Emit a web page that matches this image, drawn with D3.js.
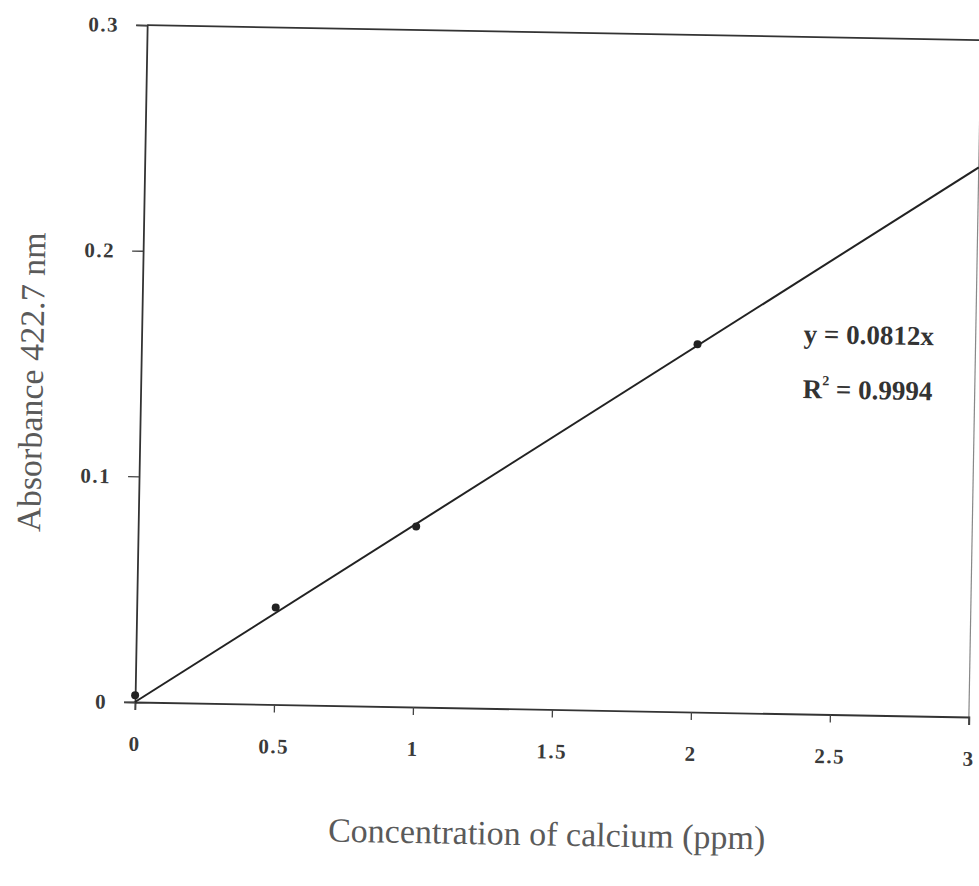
<!DOCTYPE html>
<html>
<head>
<meta charset="utf-8">
<script src="https://cdn.jsdelivr.net/npm/d3@7"></script>
<style>
  body { margin: 0; background: #fff; }
  svg { display: block; }
</style>
</head>
<body>
<div id="chart"></div>
<script>
// calibration data
var concentration = [0, 0.5, 1, 2];
var absorbance = [0.003, 0.043, 0.080, 0.163];
var xTicks = [0, 0.5, 1, 1.5, 2, 2.5, 3];
var yTicks = [0, 0.1, 0.2, 0.3];
var slope = 0.0812;
var rSquared = "0.9994";

var w = 979, h = 886;
var x0 = 135, y0 = 702;     // plot origin
var plotW = 834, plotH = 677;
var tilt = 1.03;            // the page was scanned slightly askew

var svg = d3.select("#chart").append("svg")
    .attr("width", w).attr("height", h)
    .style("background", "#ffffff");

var g = svg.append("g")
    .attr("transform", "rotate(" + tilt + "," + x0 + "," + y0 + ")");

var x_scale = d3.scaleLinear().domain([0, 3]).range([x0, x0 + plotW]);
var y_scale = d3.scaleLinear().domain([0, 0.3]).range([y0, y0 - plotH]);

// frame: top and right border
g.append("line")
    .attr("x1", x_scale(0)).attr("x2", x_scale(3) + 20)
    .attr("y1", y_scale(0.3)).attr("y2", y_scale(0.3))
    .attr("stroke", "#333").attr("stroke-width", 1.8);
g.append("line")
    .attr("x1", x_scale(3)).attr("x2", x_scale(3))
    .attr("y1", y_scale(0.3)).attr("y2", y_scale(0) + 8)
    .attr("stroke", "#888").attr("stroke-width", 1.2);

var xAxis = g.append("g")
    .attr("transform", "translate(0," + y0 + ")")
    .call(d3.axisBottom(x_scale).tickValues(xTicks).tickSize(8).tickPadding(26)
        .tickFormat(function (d) { return d; }));
var yAxis = g.append("g")
    .attr("transform", "translate(" + x0 + ",0)")
    .call(d3.axisLeft(y_scale).tickValues(yTicks).tickSize(11).tickPadding(17)
        .tickFormat(function (d) { return d; }));

[xAxis, yAxis].forEach(function (ax) {
    ax.attr("font-size", null);
    ax.select(".domain").attr("stroke", "#333").attr("stroke-width", 1.8);
    ax.selectAll(".tick line").attr("stroke", "#444").attr("stroke-width", 1.3);
    ax.selectAll("text")
        .style("font-family", "'Liberation Serif', 'DejaVu Serif', serif")
        .style("font-size", "21px")
        .style("font-weight", "bold")
        .style("letter-spacing", "1.5px")
        .attr("fill", "#3a3a3a");
});

// trend line through the origin
g.append("line")
    .attr("x1", x_scale(0)).attr("y1", y_scale(0))
    .attr("x2", x_scale(3)).attr("y2", y_scale(slope * 3))
    .attr("stroke", "#222").attr("stroke-width", 2);

g.selectAll("path.pt").data(concentration).enter()
    .append("path")
    .attr("class", "pt")
    .attr("d", d3.symbol().type(d3.symbolCircle).size(50))
    .attr("transform", function (d, i) {
        return "translate(" + x_scale(d) + "," + y_scale(absorbance[i]) + ")";
    })
    .attr("fill", "#222");

// equation label
var eq = g.append("g")
    .attr("font-family", "'Liberation Serif', 'DejaVu Serif', serif")
    .attr("font-weight", "bold")
    .attr("font-size", "27px")
    .attr("fill", "#333");
eq.append("text").attr("x", 797).attr("y", 331).text("y = " + slope + "x");
var r2 = eq.append("text").attr("x", 797).attr("y", 386);
r2.append("tspan").text("R");
r2.append("tspan").attr("dy", -13).attr("font-size", "14px").text("2");
r2.append("tspan").attr("dy", 13).text(" = " + rSquared);

// axis titles
g.append("text")
    .attr("x", (x0 + x0 + plotW) / 2 - 3)
    .attr("y", 838)
    .attr("text-anchor", "middle")
    .attr("font-family", "'Liberation Serif', 'DejaVu Serif', serif")
    .attr("font-size", "34px")
    .attr("fill", "#5a5a5a")
    .text("Concentration of calcium (ppm)");

g.append("text")
    .attr("transform", "translate(37,384) rotate(-90)")
    .attr("text-anchor", "middle")
    .attr("font-family", "'Liberation Serif', 'DejaVu Serif', serif")
    .attr("font-size", "34px")
    .attr("fill", "#5a5a5a")
    .text("Absorbance 422.7 nm");
</script>
</body>
</html>
